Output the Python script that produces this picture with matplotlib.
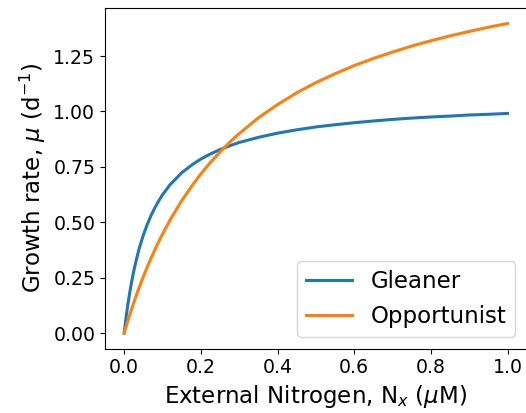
import matplotlib
matplotlib.use("Agg")
import matplotlib.pyplot as plt

# External nitrogen concentration (uM)
nitrogen = [0, 0.005, 0.01, 0.015, 0.02, 0.025, 0.03, 0.035, 0.04, 0.05, 0.06, 0.07,
            0.08, 0.09, 0.1, 0.12, 0.15, 0.18, 0.2, 0.22, 0.25, 0.28, 0.3, 0.35, 0.4,
            0.45, 0.5, 0.55, 0.6, 0.65, 0.7, 0.75, 0.8, 0.85, 0.9, 0.95, 1.0]

# Growth rate (d^-1)
gleaner = [0, 0.071, 0.133, 0.187, 0.236, 0.279, 0.318, 0.353, 0.386, 0.442, 0.489,
           0.530, 0.565, 0.596, 0.624, 0.670, 0.723, 0.763, 0.785, 0.804, 0.828,
           0.848, 0.860, 0.883, 0.902, 0.917, 0.930, 0.940, 0.949, 0.957, 0.964,
           0.970, 0.975, 0.979, 0.984, 0.987, 0.991]
opportunist = [0, 0.029, 0.057, 0.085, 0.111, 0.137, 0.162, 0.186, 0.209, 0.254,
               0.297, 0.337, 0.375, 0.412, 0.446, 0.511, 0.597, 0.672, 0.718, 0.760,
               0.817, 0.869, 0.900, 0.971, 1.031, 1.084, 1.130, 1.170, 1.207, 1.239,
               1.268, 1.295, 1.319, 1.341, 1.361, 1.380, 1.397]

fig = plt.figure(figsize=(5.26, 4.13), dpi=100)
ax = fig.add_axes([105 / 526, 64.5 / 413, 421.7 / 526, 340.5 / 413])

ax.plot(nitrogen, gleaner, color="#1f77b4", lw=2.2, label="Gleaner")
ax.plot(nitrogen, opportunist, color="#ff7f0e", lw=2.2, label="Opportunist")

ax.set_xticks([0.0, 0.2, 0.4, 0.6, 0.8, 1.0])
ax.set_yticks([0.0, 0.25, 0.5, 0.75, 1.0, 1.25])
ax.tick_params(labelsize=13.6)
ax.set_xlabel(r"External Nitrogen, N$_x$ ($\mu$M)", fontsize=16.5)
ax.set_ylabel(r"Growth rate, $\mu$ (d$^{-1}$)", fontsize=16.5)
ax.legend(loc="lower right", fontsize=16.5)

fig.savefig("out.png", dpi=100)
